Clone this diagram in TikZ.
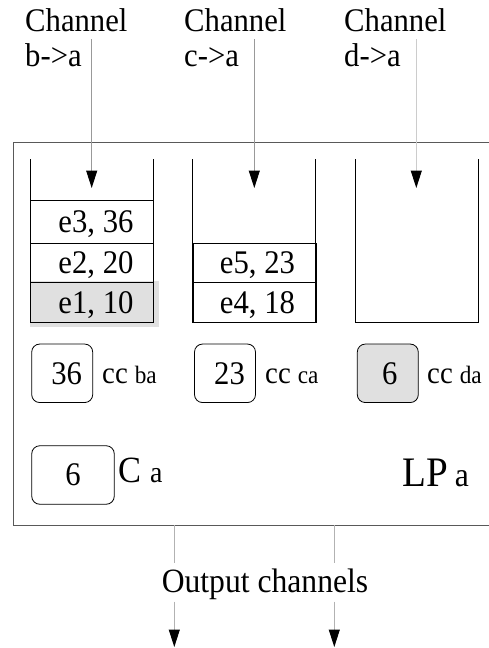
\documentclass[tikz,border=0pt]{standalone}
\usepackage{fontspec}
\setmainfont{Liberation Serif}[FakeStretch=0.93]
\usetikzlibrary{arrows.meta}
\newcommand{\fs}[1]{\fontsize{#1}{#1}\selectfont}
\begin{document}
\begin{tikzpicture}[x=1pt,y=-1pt,
  txt/.style={inner sep=0pt, anchor=base west, font=\fs{33}},
  chline/.style={line width=1pt, draw=black!40},
  tipped/.style={-{Triangle[length=17.5pt,width=11pt,color=black]}},
  queue/.style={line width=0.9pt, draw=black},
  slot/.style={draw=black, line width=0.9pt, minimum width=123pt, inner sep=0pt,
               text depth=0pt, anchor=north west, font=\fs{33}},
  counter/.style={draw=black, rounded corners=8pt, line width=0.8pt,
                  minimum width=61pt, minimum height=58.5pt, inner sep=0pt, font=\fs{33}},
  hl/.style={fill=black!12}
]
\useasboundingbox (0,0) rectangle (489,648);

% logical process frame
\draw[line width=1pt, draw=black!65] (13,142) rectangle (500,525);

% input channel labels
\node[txt] (chb) at (25,31.5) {Channel};
\node[txt] (chb2) at (25,66) {b->a};
\node[txt] (chc) at (184,31.5) {Channel};
\node[txt] (chc2) at (184,66) {c->a};
\node[txt] (chd) at (344,31.5) {Channel};
\node[txt] (chd2) at (344,66) {d->a};

% queue b->a
\fill[black!12] (30,281) rectangle (159,327);
\node[slot, minimum height=42.5pt] (qb3) at (30,200) {\hspace{8pt}e3, 36};
\node[slot, minimum height=39.5pt] (qb2) at (30,242.5) {\hspace{8pt}e2, 20};
\node[slot, minimum height=40pt, hl] (qb1) at (30,282) {\hspace{8pt}e1, 10};
\draw[queue] (30,159) -- (30,322) -- (153,322) -- (153,159);

% queue c->a
\node[slot, minimum height=39.5pt] (qc2) at (192.5,242.5) {\hspace{6pt}e5, 23};
\node[slot, minimum height=40pt] (qc1) at (192.5,282) {\hspace{6pt}e4, 18};
\draw[queue] (192.5,159) -- (192.5,322) -- (315.5,322) -- (315.5,159);

% queue d->a
\draw[queue] (355.5,159) -- (355.5,322) -- (478.5,322) -- (478.5,159);

% incoming channel arrows
\coordinate (inb) at (91.7,39);
\coordinate (inbend) at (91.7,188);
\coordinate (inc) at (254.3,39);
\coordinate (incend) at (254.3,188);
\coordinate (ind) at (416.3,39);
\coordinate (indend) at (416.3,188);
\draw[chline, tipped] (inb) -- (inbend);
\draw[chline, tipped] (inc) -- (incend);
\draw[chline, draw=black!20, tipped] (ind) -- (indend);

% channel clocks
\node[counter] (ccb) at (62.2,373.3) {\hspace{9pt}36};
\node[counter] (ccc) at (225,373.3) {\hspace{9pt}23};
\node[counter, hl] (ccd) at (387.8,373.3) {\hspace{4pt}6};
\node[txt] (lccb) at (102,383.3) {\fs{31}cc\hspace{7pt}\fs{25}ba};
\node[txt] (lccc) at (265,383.3) {\fs{31}cc\hspace{7pt}\fs{25}ca};
\node[txt] (lccd) at (427,383.3) {\fs{31}cc\hspace{7pt}\fs{25}da};

% local clock
\node[counter, minimum width=82.5pt] (ca) at (73,475) {6};
\node[txt] (lca) at (118,482) {\fs{37}C\hspace{9pt}\fs{30}a};

% process name
\node[txt] (lp) at (402,486.7) {\fs{42}LP\hspace{7pt}\fs{34}a};

% output channels
\node[txt, anchor=base] (out) at (265,592) {\fs{34}Output channels};
\coordinate (o1a) at (174.3,525);
\coordinate (o1b) at (174.3,563.3);
\coordinate (o1c) at (174.3,601.7);
\coordinate (o1d) at (174.3,647);
\coordinate (o2a) at (334.3,525);
\coordinate (o2b) at (334.3,563.3);
\coordinate (o2c) at (334.3,601.7);
\coordinate (o2d) at (334.3,647);
\draw[chline, draw=black!30] (o1a) -- (o1b);
\draw[chline, draw=black!30] (o2a) -- (o2b);
\draw[chline, draw=black!30, tipped] (o1c) -- (o1d);
\draw[chline, draw=black!30, tipped] (o2c) -- (o2d);
\end{tikzpicture}
\end{document}
